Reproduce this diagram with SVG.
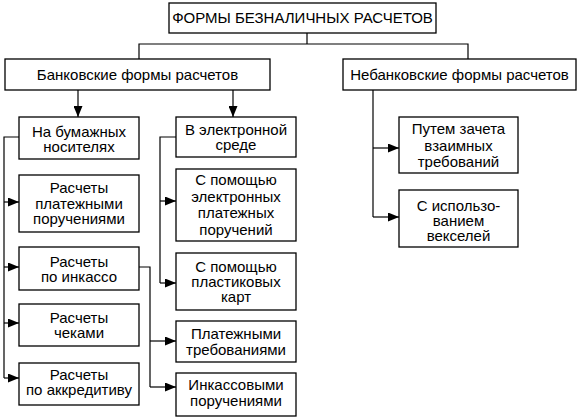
<svg xmlns="http://www.w3.org/2000/svg" width="579" height="418" viewBox="0 0 579 418">
<style>
.box{fill:#fff;stroke:#000;stroke-width:1.3}
.ln{fill:none;stroke:#000;stroke-width:1.2}
.ar{fill:none;stroke:#000;stroke-width:1.2;marker-end:url(#ah)}
text{font-family:"Liberation Sans",Arial,sans-serif;font-size:15px;fill:#000;text-anchor:middle}
</style>
<defs>
<marker id="ah" markerUnits="userSpaceOnUse" markerWidth="12" markerHeight="9" refX="11" refY="4.5" orient="auto">
<path d="M0,0 L11,4.5 L0,9 z" fill="#000"/>
</marker>
</defs>
<rect width="579" height="418" fill="#fff"/>
<g id="connectors">
<path class="ln" d="M307,33 V44 M139,59 V44 H468 V59"/>
<path class="ar" d="M78,90 V117"/>
<path class="ar" d="M233,90 V117"/>
<path class="ln" d="M19,137 H4 V378"/>
<path class="ar" d="M4,202 H19"/>
<path class="ar" d="M4,267 H19"/>
<path class="ar" d="M4,323 H19"/>
<path class="ar" d="M4,378 H19"/>
<path class="ln" d="M176,137 H160 V283"/>
<path class="ar" d="M160,201 H176"/>
<path class="ar" d="M160,283 H176"/>
<path class="ln" d="M139,267 H150 V387"/>
<path class="ar" d="M150,341 H176"/>
<path class="ar" d="M150,387 H176"/>
<path class="ln" d="M373,90 V217"/>
<path class="ar" d="M373,148 H399"/>
<path class="ar" d="M373,217 H399"/>
</g>
<g id="n-root"><rect class="box" x="169" y="3" width="267" height="30"/><text x="302.5" y="23">ФОРМЫ БЕЗНАЛИЧНЫХ РАСЧЕТОВ</text></g>
<g id="n-bank"><rect class="box" x="5" y="59" width="265" height="31"/><text x="137.5" y="79.5">Банковские формы расчетов</text></g>
<g id="n-nonbank"><rect class="box" x="343" y="59" width="233" height="31"/><text x="459.5" y="79.5">Небанковские формы расчетов</text></g>
<g id="n-paper"><rect class="box" x="19" y="117" width="120" height="42"/><text x="79" y="137">На бумажных</text><text x="79" y="152">носителях</text></g>
<g id="n-electron"><rect class="box" x="176" y="117" width="120" height="40"/><text x="236" y="135">В электронной</text><text x="236" y="150">среде</text></g>
<g id="n-payorders"><rect class="box" x="19" y="175" width="120" height="57"/><text x="79" y="193">Расчеты</text><text x="79" y="208.5">платежными</text><text x="79" y="224">поручениями</text></g>
<g id="n-epay"><rect class="box" x="176" y="169" width="120" height="72"/><text x="236" y="185">С помощью</text><text x="236" y="201.7">электронных</text><text x="236" y="218.3">платежных</text><text x="236" y="235">поручений</text></g>
<g id="n-inkasso"><rect class="box" x="19" y="247" width="120" height="43"/><text x="79" y="267">Расчеты</text><text x="79" y="282">по инкассо</text></g>
<g id="n-cards"><rect class="box" x="176" y="253" width="120" height="57"/><text x="236" y="272">С помощью</text><text x="236" y="287">пластиковых</text><text x="236" y="302">карт</text></g>
<g id="n-cheques"><rect class="box" x="19" y="304" width="120" height="42"/><text x="79" y="323">Расчеты</text><text x="79" y="338">чеками</text></g>
<g id="n-akkred"><rect class="box" x="19" y="363" width="120" height="42"/><text x="79" y="380">Расчеты</text><text x="79" y="395">по аккредитиву</text></g>
<g id="n-paydemands"><rect class="box" x="176" y="321" width="120" height="41"/><text x="236" y="338.5">Платежными</text><text x="236" y="354.5">требованиями</text></g>
<g id="n-inkorders"><rect class="box" x="176" y="373" width="120" height="43"/><text x="236" y="390">Инкассовыми</text><text x="236" y="406">поручениями</text></g>
<g id="n-offset"><rect class="box" x="399" y="117" width="119" height="56"/><text x="458.5" y="134">Путем зачета</text><text x="458.5" y="151">взаимных</text><text x="458.5" y="167">требований</text></g>
<g id="n-bills"><rect class="box" x="399" y="190" width="119" height="57"/><text x="458.5" y="211">С использо-</text><text x="458.5" y="226">ванием</text><text x="458.5" y="241">векселей</text></g>
</svg>
